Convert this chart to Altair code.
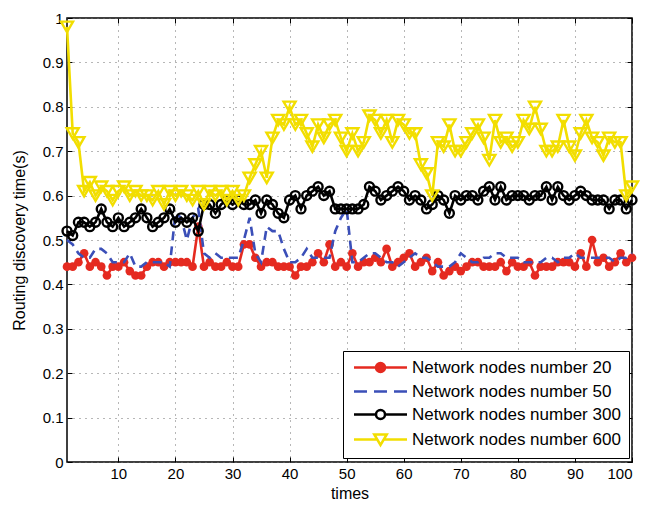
import altair as alt
import pandas as pd

times = list(range(1, 101))
series_names = [
    "Network nodes number 20",
    "Network nodes number 50",
    "Network nodes number 300",
    "Network nodes number 600",
]

nodes20 = [0.44, 0.44, 0.45, 0.47, 0.44, 0.45, 0.44, 0.42, 0.44, 0.44,
           0.45, 0.43, 0.42, 0.42, 0.44, 0.45, 0.45, 0.44, 0.45, 0.45,
           0.45, 0.45, 0.44, 0.53, 0.44, 0.45, 0.44, 0.44, 0.45, 0.44,
           0.44, 0.49, 0.49, 0.46, 0.44, 0.45, 0.45, 0.44, 0.44, 0.44,
           0.42, 0.44, 0.44, 0.45, 0.47, 0.45, 0.49, 0.44, 0.45, 0.44,
           0.47, 0.44, 0.45, 0.45, 0.46, 0.45, 0.48, 0.44, 0.45, 0.46,
           0.47, 0.44, 0.45, 0.46, 0.43, 0.45, 0.42, 0.43, 0.44, 0.43,
           0.44, 0.45, 0.45, 0.44, 0.44, 0.44, 0.45, 0.43, 0.45, 0.44,
           0.44, 0.45, 0.42, 0.44, 0.44, 0.44, 0.45, 0.45, 0.45, 0.44,
           0.47, 0.44, 0.50, 0.45, 0.46, 0.44, 0.45, 0.47, 0.45, 0.46]

nodes50 = [0.50, 0.49, 0.47, 0.46, 0.46, 0.48, 0.48, 0.47, 0.45, 0.45,
           0.45, 0.47, 0.44, 0.44, 0.45, 0.45, 0.45, 0.45, 0.44, 0.56,
           0.55, 0.50, 0.55, 0.57, 0.47, 0.46, 0.47, 0.46, 0.46, 0.46,
           0.46, 0.50, 0.55, 0.47, 0.45, 0.53, 0.52, 0.52, 0.48, 0.45,
           0.45, 0.46, 0.48, 0.46, 0.46, 0.46, 0.46, 0.52, 0.55, 0.57,
           0.45, 0.45, 0.46, 0.47, 0.47, 0.46, 0.45, 0.45, 0.44, 0.45,
           0.46, 0.47, 0.46, 0.46, 0.45, 0.44, 0.44, 0.44, 0.45, 0.47,
           0.46, 0.45, 0.45, 0.46, 0.46, 0.47, 0.47, 0.46, 0.46, 0.46,
           0.45, 0.45, 0.45, 0.45, 0.46, 0.46, 0.45, 0.46, 0.46, 0.47,
           0.46, 0.46, 0.46, 0.46, 0.46, 0.46, 0.45, 0.46, 0.46, 0.47]

nodes300 = [0.52, 0.51, 0.54, 0.54, 0.53, 0.54, 0.57, 0.54, 0.53, 0.55,
            0.53, 0.54, 0.55, 0.57, 0.55, 0.53, 0.54, 0.55, 0.57, 0.54,
            0.55, 0.54, 0.55, 0.52, 0.58, 0.58, 0.56, 0.58, 0.59, 0.58,
            0.59, 0.58, 0.58, 0.59, 0.56, 0.59, 0.58, 0.56, 0.55, 0.59,
            0.60, 0.57, 0.60, 0.61, 0.62, 0.60, 0.61, 0.57, 0.57, 0.57,
            0.57, 0.57, 0.58, 0.62, 0.61, 0.59, 0.60, 0.61, 0.62, 0.61,
            0.59, 0.60, 0.59, 0.57, 0.58, 0.60, 0.59, 0.56, 0.60, 0.59,
            0.60, 0.60, 0.59, 0.61, 0.62, 0.59, 0.62, 0.59, 0.60, 0.60,
            0.60, 0.59, 0.60, 0.60, 0.62, 0.59, 0.62, 0.60, 0.59, 0.60,
            0.61, 0.60, 0.59, 0.59, 0.59, 0.57, 0.59, 0.59, 0.57, 0.59]

nodes600 = [0.98, 0.74, 0.72, 0.61, 0.63, 0.60, 0.62, 0.61, 0.59, 0.61,
            0.62, 0.60, 0.61, 0.60, 0.60, 0.59, 0.61, 0.58, 0.61, 0.60,
            0.61, 0.60, 0.59, 0.61, 0.58, 0.61, 0.60, 0.61, 0.59, 0.61,
            0.59, 0.60, 0.64, 0.67, 0.70, 0.64, 0.73, 0.77, 0.76, 0.80,
            0.76, 0.77, 0.74, 0.71, 0.76, 0.73, 0.76, 0.77, 0.73, 0.70,
            0.74, 0.70, 0.72, 0.78, 0.77, 0.74, 0.77, 0.72, 0.77, 0.76,
            0.74, 0.74, 0.67, 0.65, 0.60, 0.72, 0.71, 0.76, 0.70, 0.70,
            0.72, 0.74, 0.76, 0.73, 0.68, 0.77, 0.72, 0.73, 0.71, 0.72,
            0.77, 0.75, 0.80, 0.75, 0.70, 0.70, 0.71, 0.77, 0.71, 0.69,
            0.74, 0.77, 0.73, 0.72, 0.69, 0.73, 0.72, 0.72, 0.60, 0.62]

line_colors = ["#E52A20", "#3B4FB8", "#000000", "#F2DE00"]
legend_fills = ["#E52A20", "transparent", "#FFFFFF", "#FFFFFF"]
legend_paths = [
    "M-5.3,0L5.3,0M-0.9,0A0.9,0.9,0,1,0,0.9,0A0.9,0.9,0,1,0,-0.9,0Z",
    "M-5.3,0L-2.7,0M-1.3,0L1.3,0M2.7,0L5.3,0",
    "M-5.3,0L-0.9,0M0.9,0L5.3,0M-0.9,0A0.9,0.9,0,1,0,0.9,0A0.9,0.9,0,1,0,-0.9,0Z",
    "M-5.3,0L-0.65,0M0.65,0L5.3,0M-1.25,-1L1.25,-1L0,1.1Z",
]
x_ticks = [10, 20, 30, 40, 50, 60, 70, 80, 90, 100]
y_ticks = [0, 0.1, 0.2, 0.3, 0.4, 0.5, 0.6, 0.7, 0.8, 0.9, 1]

frames = []
for name, vals in zip(series_names, [nodes20, nodes50, nodes300, nodes600]):
    frames.append(pd.DataFrame({"times": times, "value": vals, "series": name}))
df = pd.concat(frames, ignore_index=True)

font = "Liberation Sans"
W, H = 565, 444
x_scale = alt.Scale(domain=[1, 100], nice=False, zero=False)
y_scale = alt.Scale(domain=[0, 1], nice=False)

x_enc = alt.X("times:Q", scale=x_scale,
              axis=alt.Axis(values=x_ticks, title="times", format="d",
                            labelPadding=4, titlePadding=4))
y_enc = alt.Y("value:Q", scale=y_scale,
              axis=alt.Axis(values=y_ticks, title="Routing discovery time(s)", format="~g",
                            labelPadding=4, titlePadding=15))

base = alt.Chart(df)
line_styles = [{}, {"strokeDash": [9, 6]}, {}, {}]
point_styles = [
    dict(shape="circle", filled=True, size=75),
    None,
    dict(shape="circle", filled=False, size=80),
    dict(shape="triangle-down", filled=False, size=145),
]

layers = []
for name, col, ls, ps in zip(series_names, line_colors, line_styles, point_styles):
    sub = base.transform_filter(alt.datum.series == name)
    layers.append(sub.mark_line(strokeWidth=2.6, color=col, **ls).encode(x=x_enc, y=y_enc))
    if ps:
        layers.append(sub.mark_point(opacity=1, strokeWidth=2.4, color=col, **ps).encode(x=x_enc, y=y_enc))

legend_def = alt.Legend(
    orient="none", legendX=276, legendY=333, title=None,
    labelFont=font, labelFontSize=17, labelColor="black", labelLimit=400,
    strokeColor="black", fillColor="white", padding=8, rowPadding=5,
    symbolOffset=21, labelOffset=23, symbolSize=100, symbolStrokeWidth=2.5,
    symbolOpacity=1,
)
legend_layer = base.transform_filter("false").mark_point(opacity=1, strokeWidth=2.5, size=100).encode(
    x=x_enc, y=y_enc,
    stroke=alt.Stroke("series:N", scale=alt.Scale(domain=series_names, range=line_colors), legend=legend_def),
    fill=alt.Fill("series:N", scale=alt.Scale(domain=series_names, range=legend_fills), legend=legend_def),
    shape=alt.Shape("series:N", scale=alt.Scale(domain=series_names, range=legend_paths), legend=legend_def),
)

main = alt.layer(*layers, legend_layer)


def tick_axis(orient, offset, values):
    return alt.Axis(orient=orient, offset=offset, values=values, labels=False, grid=False,
                    ticks=True, tickSize=5, tickColor="black", tickWidth=1, domain=False, title=None)


ticks_a = base.transform_filter("false").mark_point(opacity=0).encode(
    x=alt.X("times:Q", scale=x_scale, axis=tick_axis("top", -H, x_ticks)),
    y=alt.Y("value:Q", scale=y_scale, axis=tick_axis("right", -W, y_ticks)),
)
ticks_b = base.transform_filter("false").mark_point(opacity=0).encode(
    x=alt.X("times:Q", scale=x_scale, axis=tick_axis("bottom", -H, x_ticks)),
    y=alt.Y("value:Q", scale=y_scale, axis=tick_axis("left", -W, y_ticks)),
)

chart = alt.layer(main, ticks_a, ticks_b).resolve_axis(
    x="independent", y="independent"
).properties(
    width=W, height=H,
    padding={"left": 3, "top": 3, "right": 5, "bottom": 5},
).configure_view(
    stroke="black", strokeWidth=1.5
).configure_axis(
    grid=True, gridColor="#6e6e6e", gridDash=[1, 5], gridWidth=1, gridOpacity=1,
    domain=False, ticks=False,
    labelFont=font, labelFontSize=15, labelColor="black",
    titleFont=font, titleFontSize=16, titleFontWeight="normal", titleColor="black",
)

chart.save("out.html", embed_options={"renderer": "svg", "actions": False})
